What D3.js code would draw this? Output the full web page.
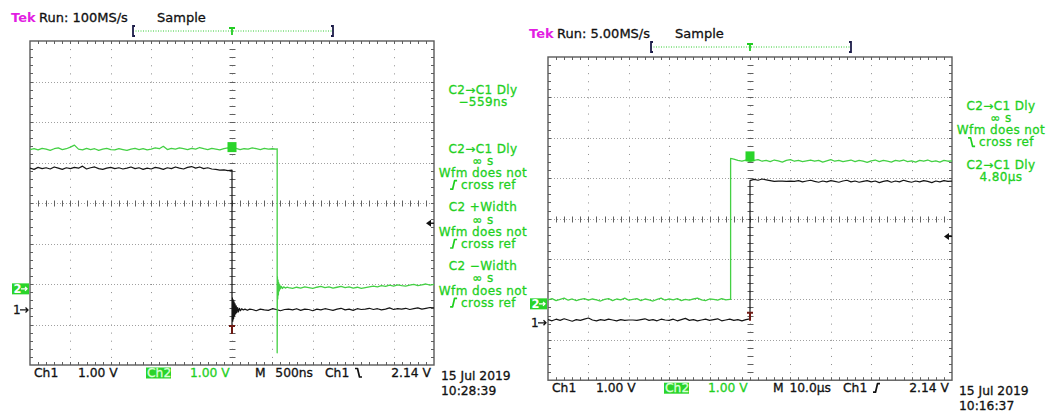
<!DOCTYPE html>
<html>
<head>
<meta charset="utf-8">
<script src="https://cdn.jsdelivr.net/npm/d3@7/dist/d3.min.js"></script>
<style>
  html, body { margin: 0; padding: 0; background: #fff; }
  svg { display: block; }
  text { font-family: "DejaVu Sans", Verdana, sans-serif; stroke-width: 0.3px; }
</style>
</head>
<body>
<svg id="scope" width="1051" height="412"></svg>
<script>
// ---------- Capture A: 100 MS/s, 500 ns/div, Ch1 falling edge ----------
const aSampleRate = "100MS/s";
const aTimebase = "500ns";
const aTimePerDiv = 500;                 // ns per division
const aCh1Scale = "1.00 V";
const aCh2Scale = "1.00 V";
const aTrigLevel = 2.14;                 // V on Ch1
const aTrigLabel = "2.14 V";
const aDate = "15 Jul 2019";
const aClock = "10:28:39";
const aDelay = 559;                      // ns, Ch2 edge after the Ch1 edge
const aReadouts = [
  ["C2\u2192C1 Dly", "\u2212559ns"],
  ["C2\u2192C1 Dly", "\u221e s", "Wfm does not", "/cross ref"],
  ["C2 +Width", "\u221e s", "Wfm does not", "/cross ref"],
  ["C2 \u2212Width", "\u221e s", "Wfm does not", "/cross ref"]
];
// Ch1 high plateau, volts, one sample per 50 ns from -2500 ns to 0
const aCh1Pre = [
  3.50,3.47,3.52,3.49,3.51,3.48,3.53,3.50,3.47,3.51,
  3.49,3.52,3.50,3.55,3.48,3.51,3.53,3.49,3.47,3.50,
  3.52,3.49,3.51,3.48,3.50,3.53,3.49,3.51,3.47,3.50,
  3.48,3.52,3.50,3.47,3.51,3.49,3.53,3.50,3.48,3.52,
  3.54,3.50,3.53,3.49,3.51,3.48,3.47,3.45,3.46,3.44,3.45
];
// Ch1 ringing right after the edge: [ns, V]
const aCh1Ring = [
  [0,-0.37],[5,0.30],[10,-0.28],[15,0.25],[20,-0.22],[26,0.20],[32,-0.15],
  [38,0.15],[45,-0.10],[52,0.10],[60,-0.07],[70,0.06],[80,-0.05],[92,0.04],
  [105,-0.02],[120,0.03],[140,0.00],[160,0.02],[190,-0.01],[220,0.02]
];
// Ch1 settled low level, one sample per 50 ns from 250 ns
const aCh1Post = [
  0.01,-0.02,0.02,0.00,-0.01,0.03,0.01,-0.02,0.01,0.02,
  0.00,0.03,-0.01,0.02,0.01,-0.02,0.02,0.00,0.03,0.01,
  -0.01,0.02,0.04,0.00,0.02,-0.01,0.03,0.01,0.02,0.04,
  0.01,0.03,0.00,0.02,0.05,0.01,0.03,0.02,0.04,0.01,
  0.03,0.05,0.02,0.04,0.06,0.05
];
// Ch2 high plateau, one sample per 50 ns from -2500 ns
const aCh2Pre = [
  3.44,3.46,3.43,3.47,3.45,3.42,3.46,3.48,3.44,3.46,
  3.50,3.55,3.45,3.43,3.47,3.44,3.46,3.42,3.45,3.47,
  3.44,3.43,3.46,3.44,3.42,3.45,3.47,3.44,3.46,3.43,
  3.45,3.48,3.46,3.52,3.44,3.47,3.45,3.48,3.46,3.44,
  3.47,3.45,3.49,3.46,3.44,3.47,3.45,3.43,3.46,3.48,
  3.45,3.47,3.44,3.46,3.45,3.48,3.46,3.44,3.47,3.45,
  3.46,3.45
];
// Ch2 falling edge and ringing: [ns, V]
const aCh2Ring = [
  [559,3.46],[559,-1.58],[562,0.30],[566,-0.25],[570,0.22],[574,-0.15],
  [579,0.15],[585,-0.05],[592,0.10],[600,0.00],[610,0.06],[625,0.01],
  [640,0.05],[660,0.02],[680,0.04]
];
// Ch2 settled low level, one sample per 50 ns from 700 ns
const aCh2Post = [
  0.03,0.01,0.04,0.02,0.05,0.03,0.01,0.04,0.06,0.03,
  0.05,0.02,0.04,0.06,0.03,0.05,0.02,0.04,0.01,0.03,
  0.05,0.07,0.05,0.08,0.06,0.09,0.07,0.10,0.08,0.07,
  0.09,0.11,0.08,0.10,0.12,0.09,0.11
];

// ---------- Capture B: 5.00 MS/s, 10 us/div, Ch1 rising edge ----------
const bSampleRate = "5.00MS/s";
const bTimebase = "10.0\u00b5s";
const bTimePerDiv = 10;                  // us per division
const bCh1Scale = "1.00 V";
const bCh2Scale = "1.00 V";
const bTrigLevel = 2.14;
const bTrigLabel = "2.14 V";
const bDate = "15 Jul 2019";
const bClock = "10:16:37";
const bDelay = -4.80;                    // us, Ch2 edge before the Ch1 edge
const bReadouts = [
  ["C2\u2192C1 Dly", "\u221e s", "Wfm does not", "\\cross ref"],
  ["C2\u2192C1 Dly", "4.80\u00b5s"]
];
// Ch1 low level, one sample per 1 us from -50 us to 0
const bCh1Pre = [
  0.08,0.05,0.09,0.06,0.10,0.07,0.04,0.08,0.06,0.09,
  0.12,0.07,0.05,0.08,0.06,0.09,0.07,0.05,0.08,0.06,
  0.07,0.07,0.06,0.08,0.10,0.06,0.08,0.05,0.09,0.07,
  0.06,0.09,0.05,0.08,0.11,0.06,0.08,0.05,0.07,0.09,
  0.06,0.08,0.10,0.05,0.07,0.09,0.06,0.08,0.05,0.08,0.10
];
// Ch1 high level, one sample per 1 us from 0 to 50 us
const bCh1Post = [
  3.52,3.55,3.53,3.56,3.54,3.52,3.50,3.51,3.51,3.50,
  3.51,3.50,3.52,3.49,3.51,3.53,3.50,3.48,3.51,3.49,
  3.52,3.50,3.48,3.51,3.53,3.49,3.51,3.48,3.50,3.52,
  3.49,3.51,3.47,3.50,3.52,3.48,3.51,3.49,3.53,3.50,
  3.48,3.51,3.49,3.52,3.50,3.47,3.51,3.49,3.52,3.50,3.51
];
// Ch2 low level, one sample per 1 us from -50 us to -5 us
const bCh2Pre = [
  0.10,0.13,0.08,0.11,0.14,0.09,0.12,0.08,0.11,0.13,
  0.09,0.12,0.10,0.07,0.11,0.13,0.08,0.12,0.10,0.14,
  0.09,0.11,0.13,0.08,0.12,0.10,0.07,0.11,0.14,0.09,
  0.12,0.10,0.13,0.08,0.11,0.09,0.12,0.14,0.10,0.08,
  0.12,0.11,0.09,0.13,0.10,0.11
];
// Ch2 rising edge: [us, V]
const bCh2Edge = [[-4.8,0.11],[-4.8,3.60]];
// Ch2 high level, one sample per 1 us from -4 us to 50 us
const bCh2Post = [
  3.58,3.55,3.53,3.56,3.52,3.55,3.57,3.53,3.55,3.52,
  3.56,3.54,3.51,3.55,3.57,3.53,3.55,3.52,3.54,3.56,
  3.53,3.55,3.51,3.54,3.57,3.53,3.55,3.52,3.54,3.56,
  3.52,3.55,3.53,3.50,3.54,3.56,3.52,3.55,3.53,3.51,
  3.55,3.53,3.56,3.52,3.54,3.51,3.55,3.53,3.56,3.52,
  3.54,3.51,3.55,3.53,3.54
];

// ---------- drawing ----------
const GREEN_TXT = "#1fd01f";
const GREEN_TRACE = "#44d044";
const GREEN_BOX = "#2ad42a";
const BLACK = "#151515";
const svg = d3.select("#scope");

const sampled = (vals, t0, dt) => vals.map((v, i) => [t0 + i * dt, v]);

function label(g, x, y, txt, size, col, anchor) {
  return g.append("text").attr("x", x).attr("y", y).attr("font-size", size)
    .attr("fill", col).attr("stroke", col).attr("text-anchor", anchor || "start").text(txt);
}

function edgeIcon(g, x, base, rising, color) {
  const h = 8.5;
  const d = rising
    ? `M${x},${base} L${x + 2.5},${base} L${x + 4.5},${base - h} L${x + 7},${base - h}`
    : `M${x},${base - h} L${x + 2.5},${base - h} L${x + 4.5},${base} L${x + 7},${base}`;
  g.append("path").attr("d", d).attr("fill", "none").attr("stroke", color)
    .attr("stroke-width", 1.7).attr("stroke-linejoin", "round");
}

function graticule(g, x0, y0, dw, dh) {
  const gw = 10 * dw, gh = 8 * dh;
  const px = v => Math.round(v) + 0.5;
  const cx = px(x0 + 5 * dw), cy = px(y0 + 4 * dh);
  // division lines
  g.append("g").selectAll("line").data(d3.range(1, 10)).join("line")
    .attr("x1", i => px(x0 + i * dw)).attr("x2", i => px(x0 + i * dw))
    .attr("y1", y0).attr("y2", y0 + gh)
    .attr("stroke", "#8c8c8c").attr("stroke-dasharray", `1 ${dh / 5 - 1}`);
  g.append("g").selectAll("line").data(d3.range(1, 8)).join("line")
    .attr("x1", x0).attr("x2", x0 + gw)
    .attr("y1", i => px(y0 + i * dh)).attr("y2", i => px(y0 + i * dh))
    .attr("stroke", "#a0a0a0").attr("stroke-dasharray", "1 2");
  // minor ticks on the centre axes and the frame
  const tx = d3.range(1, 50).map(i => px(x0 + i * dw / 5));
  const ty = d3.range(1, 40).map(i => px(y0 + i * dh / 5));
  let d = "";
  tx.forEach(x => {
    d += `M${x},${cy - 3}V${cy + 3}`;
    d += `M${x},${y0}V${y0 + 3}M${x},${y0 + gh}V${y0 + gh - 3}`;
  });
  ty.forEach(y => {
    d += `M${cx - 3},${y}H${cx + 3}`;
    d += `M${x0},${y}H${x0 + 3}M${x0 + gw},${y}H${x0 + gw - 3}`;
  });
  g.append("path").attr("d", d).attr("stroke", "#606060").attr("stroke-width", 1).attr("fill", "none");
  g.append("rect").attr("x", x0).attr("y", y0).attr("width", gw).attr("height", gh)
    .attr("fill", "none").attr("stroke", "#5a5a5a").attr("stroke-width", 1.4);
}

function drawScope(p) {
  const g = svg.append("g");
  const { x0, y0, dw, dh } = p;
  const gw = 10 * dw, gh = 8 * dh;
  const x = d3.scaleLinear().domain([-5 * p.tdiv, 5 * p.tdiv]).range([x0, x0 + gw]);
  const chScale = off => d3.scaleLinear().domain([-4 - off, 4 - off]).range([y0 + gh, y0]);
  const y1 = chScale(p.ch1Off), y2 = chScale(p.ch2Off);

  graticule(g, x0, y0, dw, dh);

  // traces
  const clipId = "clip" + x0;
  g.append("clipPath").attr("id", clipId).append("rect")
    .attr("x", x0).attr("y", y0).attr("width", gw).attr("height", gh);
  const line = ys => d3.line().x(d => x(d[0])).y(d => ys(d[1]));
  g.append("path").datum(p.ch1).attr("d", line(y1)).attr("clip-path", `url(#${clipId})`)
    .attr("fill", "none").attr("stroke", BLACK).attr("stroke-width", 1.2).attr("stroke-linejoin", "round");
  g.append("path").datum(p.ch2).attr("d", line(y2)).attr("clip-path", `url(#${clipId})`)
    .attr("fill", "none").attr("stroke", GREEN_TRACE).attr("stroke-width", 1.3).attr("stroke-linejoin", "round");

  // trigger markers on the traces
  const tx0 = x(0);
  g.append("rect").attr("x", tx0 - 4.5).attr("y", y2(p.markV) - 5).attr("width", 9).attr("height", 10)
    .attr("fill", GREEN_BOX);
  const my = y1(p.redTV);
  g.append("path").attr("d", `M${tx0 - 3},${my}H${tx0 + 3}M${tx0},${my}V${my + 8}`)
    .attr("stroke", "#6e1a14").attr("stroke-width", 2).attr("fill", "none");

  // trigger level arrow on the right edge
  const ty = y1(p.trig);
  g.append("path").attr("d", `M${x0 + gw - 8},${ty}L${x0 + gw - 3},${ty - 3.5}L${x0 + gw - 3},${ty + 3.5}Z`)
    .attr("fill", "#111");
  g.append("line").attr("x1", x0 + gw - 4).attr("x2", x0 + gw).attr("y1", ty).attr("y2", ty)
    .attr("stroke", "#111").attr("stroke-width", 1.4);

  // channel ground markers
  const g2 = y2(0), g1 = y1(0);
  g.append("rect").attr("x", x0 - 18).attr("y", g2 - 5.5).attr("width", 17).attr("height", 11).attr("fill", GREEN_BOX);
  g.append("text").attr("x", x0 - 16.5).attr("y", g2 + 4.5).attr("font-size", 11.5).attr("font-weight", "bold")
    .attr("fill", "#fff").text("2");
  g.append("path").attr("d", `M${x0 - 9},${g2}H${x0 - 3}M${x0 - 5},${g2 - 2}L${x0 - 3},${g2}L${x0 - 5},${g2 + 2}`)
    .attr("stroke", "#fff").attr("stroke-width", 1.3).attr("fill", "none");
  label(g, x0 - 17, g1 + 4.5, "1", 12, BLACK);
  g.append("path").attr("d", `M${x0 - 10},${g1}H${x0 - 2}M${x0 - 4.5},${g1 - 2.5}L${x0 - 2},${g1}L${x0 - 4.5},${g1 + 2.5}`)
    .attr("stroke", BLACK).attr("stroke-width", 1.3).attr("fill", "none");

  // header
  const hy = y0 - 19;
  g.append("text").attr("x", x0 - 19).attr("y", hy).attr("font-size", 13).attr("font-weight", "bold")
    .attr("fill", "#e21ee2").text("Tek");
  label(g, x0 + 9, hy, "Run: " + p.rate, 13, "#111");
  label(g, x0 + 127, hy, "Sample", 13, "#111");

  // record bracket
  const by = y0 - 10, bl = x0 + 103, br = x0 + 303;
  g.append("line").attr("x1", bl).attr("x2", br).attr("y1", by).attr("y2", by)
    .attr("stroke", "#33cc33").attr("stroke-dasharray", "1 1.5");
  g.append("path")
    .attr("d", `M${bl + 2},${by - 5}H${bl}V${by + 5}H${bl + 2}M${br - 2},${by - 5}H${br}V${by + 5}H${br - 2}`)
    .attr("stroke", "#1d1d4a").attr("stroke-width", 1.8).attr("fill", "none");
  g.append("path").attr("d", `M${tx0 - 3},${by - 3}H${tx0 + 3}M${tx0},${by - 3}V${by + 4}`)
    .attr("stroke", "#22cc22").attr("stroke-width", 1.8).attr("fill", "none");

  // measurement readouts
  const rcx = x0 + gw + 49;
  p.readouts.forEach((lines, bi) => {
    lines.forEach((s, li) => {
      const yb = y0 + 48.5 + bi * 58.8 + li * 12.2 + 4.3;
      if (s[0] === "/" || s[0] === "\\") {
        const t = label(g, 0, yb, s.slice(1), 12, GREEN_TXT).attr("letter-spacing", 0.4);
        const w = t.node().getComputedTextLength();
        const sx = rcx - (w + 11) / 2;
        t.attr("x", sx + 11);
        edgeIcon(g, sx, yb, s[0] === "/", GREEN_TXT);
      } else {
        label(g, rcx, yb, s, 12, GREEN_TXT, "middle").attr("letter-spacing", 0.4);
      }
    });
  });

  // status line
  const sy = y0 + gh + 12;
  const fs = 12.3;
  label(g, x0 + 4, sy, "Ch1", fs, "#111");
  label(g, x0 + 48, sy, p.ch1Scale, fs, "#111");
  g.append("rect").attr("x", x0 + 116).attr("y", y0 + gh + 2.5).attr("width", 25).attr("height", 11).attr("fill", GREEN_BOX);
  label(g, x0 + 117, sy, "Ch2", fs, "#d8ffd8");
  label(g, x0 + 160, sy, p.ch2Scale, fs, GREEN_TXT);
  label(g, x0 + 225, sy, "M", fs, "#111");
  label(g, x0 + 283, sy, p.timebase, fs, "#111", "end");
  label(g, x0 + 295, sy, "Ch1", fs, "#111");
  edgeIcon(g, x0 + 325, sy, p.rising, "#111");
  label(g, x0 + 401, sy, p.trigLabel, fs, "#111", "end");
  label(g, x0 + 411, y0 + gh + 14.5, p.date, fs, "#111");
  label(g, x0 + 411, y0 + gh + 29.5, p.clock, fs, "#111");
}

drawScope({
  x0: 30, y0: 41, dw: 40.4, dh: 40.5, tdiv: aTimePerDiv,
  ch1Off: -2.64, ch2Off: -2.12,
  ch1: [...sampled(aCh1Pre, -2500, 50), ...aCh1Ring, ...sampled(aCh1Post, 250, 50)],
  ch2: [...sampled(aCh2Pre, -2500, 50), ...aCh2Ring, ...sampled(aCh2Post, 700, 50)],
  markV: 3.5, redTV: -0.4, trig: aTrigLevel, rising: false,
  rate: aSampleRate, timebase: aTimebase, ch1Scale: aCh1Scale, ch2Scale: aCh2Scale,
  trigLabel: aTrigLabel, date: aDate, clock: aClock, readouts: aReadouts
});

drawScope({
  x0: 548, y0: 57, dw: 40.4, dh: 40.4, tdiv: bTimePerDiv,
  ch1Off: -2.58, ch2Off: -2.11,
  ch1: [...sampled(bCh1Pre, -50, 1), ...sampled(bCh1Post, 0, 1)],
  ch2: [...sampled(bCh2Pre, -50, 1), ...bCh2Edge, ...sampled(bCh2Post, -4, 1)],
  markV: 3.65, redTV: 0.25, trig: bTrigLevel, rising: true,
  rate: bSampleRate, timebase: bTimebase, ch1Scale: bCh1Scale, ch2Scale: bCh2Scale,
  trigLabel: bTrigLabel, date: bDate, clock: bClock, readouts: bReadouts
});
</script>
</body>
</html>
